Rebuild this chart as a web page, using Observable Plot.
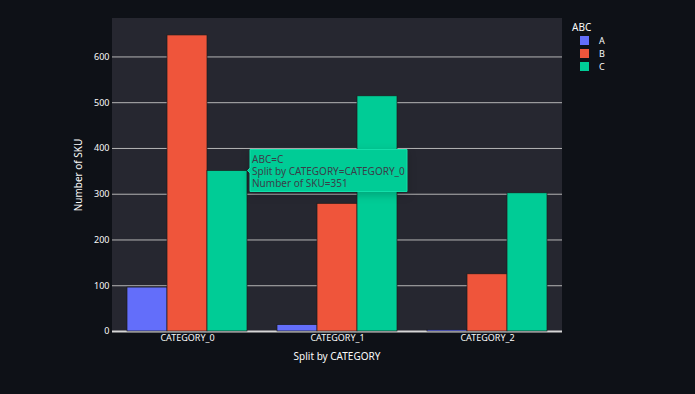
<!DOCTYPE html>
<html>
<head>
<meta charset="utf-8">
<script src="https://cdn.jsdelivr.net/npm/d3@7"></script>
<script src="https://cdn.jsdelivr.net/npm/@observablehq/plot@0.6"></script>
<style>
  html, body { margin: 0; padding: 0; background: #0e1117; }
  #wrap { position: relative; width: 695px; height: 394px; overflow: hidden; font-family: "Noto Sans", sans-serif; color: #fafafa; }
  #wrap svg { position: absolute; left: 0; top: 0; }
  #bg { position: absolute; left: 112px; top: 18px; width: 450px; height: 313px; background: #262730; }
  #wrap g[aria-label="tip"] text, #wrap g[aria-label="tip"] tspan { fill: #3a3f4a; }
  .ttl { position: absolute; font-size: 10px; color: #fafafa; white-space: nowrap; }
  #ytitle { left: 78px; top: 175px; transform: translate(-50%, -50%) rotate(-90deg); }
  #xtitle { left: 337px; top: 356px; transform: translate(-50%, -50%); }
  #legend { position: absolute; left: 572px; top: 20px; font-size: 9px; }
  #legend .lt { font-size: 10px; margin-bottom: 0px; line-height: 14px; }
  #legend .it { display: flex; align-items: center; height: 13px; }
  #legend .sw { width: 9px; height: 9px; margin-left: 8px; margin-right: 10px; }
</style>
</head>
<body>
<div id="wrap">
  <div id="bg"></div>
  <div class="ttl" id="ytitle"></div>
  <div class="ttl" id="xtitle"></div>
  <div id="legend"></div>
</div>
<script>
const categories = ["CATEGORY_0", "CATEGORY_1", "CATEGORY_2"];
const groups = ["A", "B", "C"];
const valuesA = [96, 14, 3];
const valuesB = [647, 279, 125];
const valuesC = [351, 514, 302];
const colors = ["#636efa", "#ef553b", "#00cc96"];
const yTicks = [0, 100, 200, 300, 400, 500, 600];
const xTitle = "Split by CATEGORY";
const yTitle = "Number of SKU";
const legendTitle = "ABC";

const series = [valuesA, valuesB, valuesC];
const data = [];
categories.forEach((c, i) => groups.forEach((g, j) => data.push({category: c, abc: g, value: series[j][i]})));

const tipDatum = [{category: categories[0], abc: groups[2], value: valuesC[0]}];

const chart = Plot.plot({
  width: 695,
  height: 394,
  marginLeft: 112,
  marginRight: 133,
  marginTop: 18,
  marginBottom: 63,
  style: {background: "transparent", color: "#fafafa", fontFamily: "'Noto Sans', sans-serif", fontSize: "9px", overflow: "visible"},
  fx: {domain: categories, padding: 0, label: null},
  x: {domain: groups, paddingInner: 0, paddingOuter: 0.375, axis: null},
  y: {domain: [0, 684], label: null},
  color: {domain: groups, range: colors},
  marks: [
    Plot.gridY(yTicks.filter(t => t > 0), {stroke: "#b5b5b5", strokeOpacity: 1, strokeWidth: 1}),
    Plot.ruleY([0], {stroke: "#d6d6d6", strokeWidth: 2}),
    Plot.barY(data, {fx: "category", x: "abc", y: "value", fill: "abc", stroke: "#1b1b1b", strokeWidth: 0.7}),
    Plot.axisY({ticks: yTicks, tickSize: 0, tickPadding: 3, label: null, fill: "#fafafa"}),
    Plot.axisFx({anchor: "bottom", tickSize: 0, tickPadding: 3, label: null, fill: "#fafafa"}),
    Plot.tip(tipDatum, {
      fx: "category", x: "abc", y: "value",
      title: d => `${legendTitle}=${d.abc}\n${xTitle}=${d.category}\n${yTitle}=${d.value}`,
      anchor: "left", dx: 20,
      fill: colors[2], stroke: "#12e0aa",
      pointerSize: 5, textPadding: 2, lineHeight: 1.2, fontSize: 10
    })
  ]
});
document.getElementById("wrap").appendChild(chart);

document.getElementById("xtitle").textContent = xTitle;
document.getElementById("ytitle").textContent = yTitle;
const lg = document.getElementById("legend");
const lt = document.createElement("div"); lt.className = "lt"; lt.textContent = legendTitle; lg.appendChild(lt);
groups.forEach((g, i) => {
  const it = document.createElement("div"); it.className = "it";
  const sw = document.createElement("div"); sw.className = "sw"; sw.style.background = colors[i];
  const tx = document.createElement("span"); tx.textContent = g;
  it.appendChild(sw); it.appendChild(tx); lg.appendChild(it);
});
</script>
</body>
</html>
